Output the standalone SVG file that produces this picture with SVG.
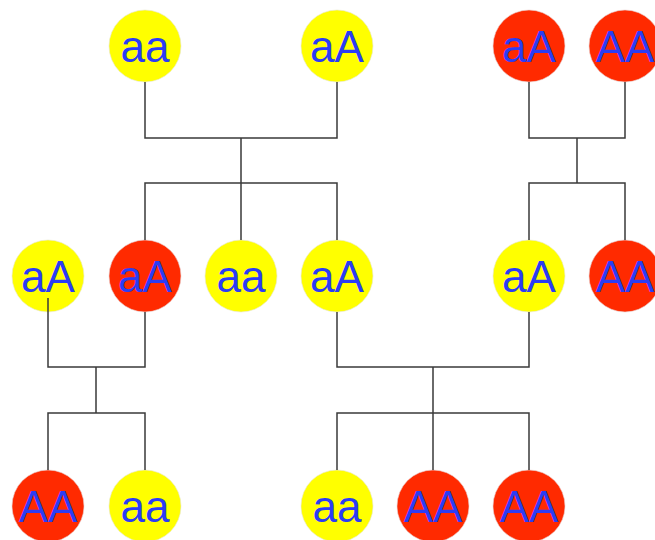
<svg xmlns="http://www.w3.org/2000/svg" width="655" height="540" viewBox="0 0 655 540">
<style>
.y{fill:#ffff00;stroke:#e8e8d0;stroke-width:0.6}
.r{fill:#ff2a00;stroke:#e8d0d0;stroke-width:0.6}
text{font-family:"Liberation Sans",Arial,sans-serif;font-size:44px;fill:#2b3cf5;text-anchor:middle}
.c path{fill:none;stroke:#3a3a3a;stroke-width:1.5}
</style>
<rect width="655" height="540" fill="#fff"/>
<g id="n1"><circle class="y" cx="145" cy="46" r="36"/><text x="145" y="62">aa</text></g>
<g id="n2"><circle class="y" cx="337" cy="46" r="36"/><text x="337" y="62">aA</text></g>
<g id="n3"><circle class="r" cx="529" cy="46" r="36"/><text x="529" y="62">aA</text></g>
<g id="n4"><circle class="r" cx="625" cy="46" r="36"/><text x="625" y="62">AA</text></g>
<g id="n5"><circle class="y" cx="48" cy="276" r="36"/><text x="48" y="292">aA</text></g>
<g id="n6"><circle class="r" cx="145" cy="276" r="36"/><text x="145" y="292">aA</text></g>
<g id="n7"><circle class="y" cx="241" cy="276" r="36"/><text x="241" y="292">aa</text></g>
<g id="n8"><circle class="y" cx="337" cy="276" r="36"/><text x="337" y="292">aA</text></g>
<g id="n9"><circle class="y" cx="529" cy="276" r="36"/><text x="529" y="292">aA</text></g>
<g id="n10"><circle class="r" cx="625" cy="276" r="36"/><text x="625" y="292">AA</text></g>
<g id="n11"><circle class="r" cx="48" cy="506" r="36"/><text x="48" y="522">AA</text></g>
<g id="n12"><circle class="y" cx="145" cy="506" r="36"/><text x="145" y="522">aa</text></g>
<g id="n13"><circle class="y" cx="337" cy="506" r="36"/><text x="337" y="522">aa</text></g>
<g id="n14"><circle class="r" cx="433" cy="506" r="36"/><text x="433" y="522">AA</text></g>
<g id="n15"><circle class="r" cx="529" cy="506" r="36"/><text x="529" y="522">AA</text></g>
<g id="connectors" class="c">
<path d="M145 82V138H337V82M241 138V240M145 240V183H337V240"/>
<path d="M529 82V138H625V82M577 138V183M529 240V183H625V240"/>
<path d="M48 298V367H145V312M96 367V413M48 470V413H145V470"/>
<path d="M337 312V367H529V312M433 367V470M337 470V413H529V470"/>
</g>
</svg>
